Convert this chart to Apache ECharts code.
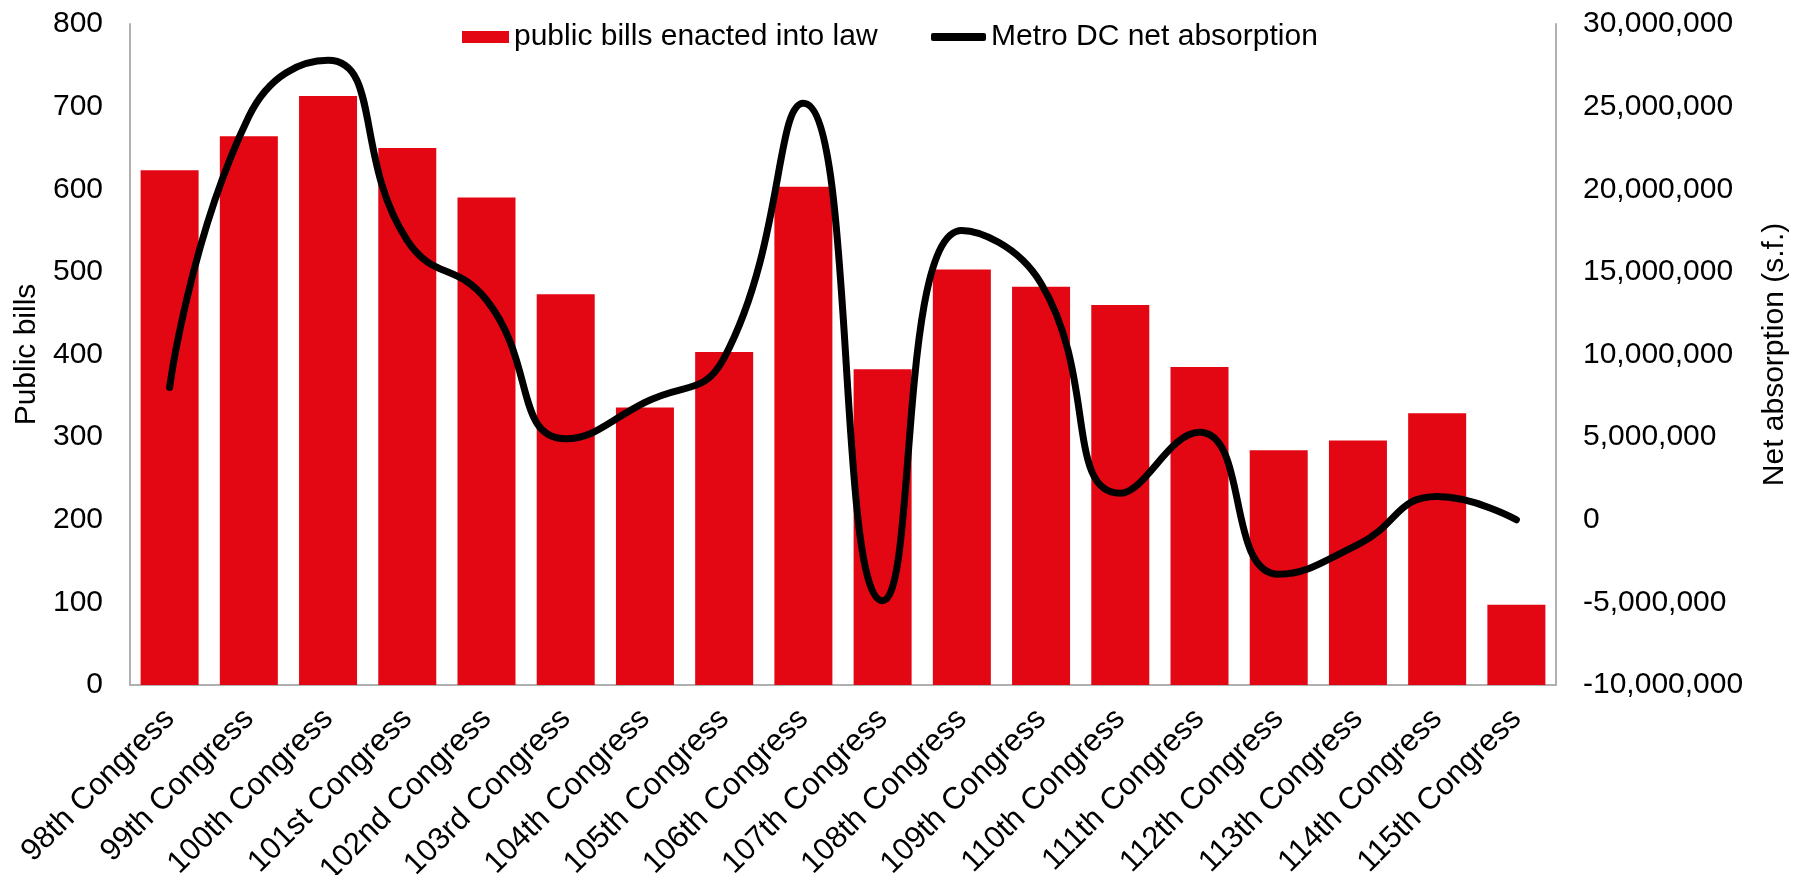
<!DOCTYPE html>
<html>
<head>
<meta charset="utf-8">
<title>Public bills vs Metro DC net absorption</title>
<script src="https://cdn.jsdelivr.net/npm/echarts@6/dist/echarts.min.js"></script>
<style>
  html, body { margin: 0; padding: 0; background: #fff; }
  #chart { width: 1801px; height: 875px; }
</style>
</head>
<body>
<div id="chart"></div>
<script>
const categories = [
  '98th Congress', '99th Congress', '100th Congress', '101st Congress', '102nd Congress',
  '103rd Congress', '104th Congress', '105th Congress', '106th Congress', '107th Congress',
  '108th Congress', '109th Congress', '110th Congress', '111th Congress', '112th Congress',
  '113th Congress', '114th Congress', '115th Congress'
]
// public bills enacted into law (left axis)
const publicBills = [623, 664, 713, 650, 590, 473, 336, 403, 603, 382, 503, 482, 460, 385, 284, 296, 329, 97]
// Metro DC net absorption, s.f. (right axis)
const netAbsorption = [
  8000000, 24400000, 27800000, 16900000, 13300000, 4900000, 7100000, 9800000, 25200000,
  -4900000, 17500000, 14300000, 1600000, 5300000, -3300000, -1500000, 1400000, 0
]

const font = "'Liberation Sans', Arial, sans-serif"
const axisGrey = '#b0b0b0'

const chart = echarts.init(document.getElementById('chart'))

chart.setOption({
  animation: false,
  textStyle: { fontFamily: font, color: '#000' },
  legend: [{
    data: ['public bills enacted into law'],
    left: 457,
    top: 17,
    icon: 'rect',
    itemWidth: 47,
    itemHeight: 12,
    textStyle: { fontFamily: font, fontSize: 30, color: '#000' }
  }, {
    data: ['Metro DC net absorption'],
    left: 926,
    top: 17,
    icon: 'roundRect',
    itemWidth: 55,
    itemHeight: 8,
    textStyle: { fontFamily: font, fontSize: 30, color: '#000' }
  }],
  grid: {
    left: 130,
    right: 245,
    top: 24,
    bottom: 190,
    outerBoundsMode: 'none'
  },
  xAxis: {
    type: 'category',
    data: categories,
    axisLine: { lineStyle: { color: axisGrey, width: 2 } },
    axisTick: { show: false },
    axisLabel: {
      interval: 0,
      rotate: 45,
      margin: 29,
      fontSize: 31,
      fontFamily: font,
      color: '#000'
    }
  },
  yAxis: [{
    type: 'value',
    name: 'Public bills',
    nameLocation: 'middle',
    nameRotate: 90,
    nameGap: 85,
    nameTextStyle: { fontSize: 30, fontFamily: font, color: '#000' },
    min: 0,
    max: 800,
    interval: 100,
    axisLine: { show: true, lineStyle: { color: axisGrey, width: 2 } },
    axisTick: { show: false },
    splitLine: { show: false },
    axisLabel: { margin: 27, fontSize: 30, fontFamily: font, color: '#000' }
  }, {
    type: 'value',
    name: 'Net absorption (s.f.)',
    nameLocation: 'middle',
    nameRotate: 90,
    nameGap: 204,
    nameTextStyle: { fontSize: 30, fontFamily: font, color: '#000' },
    position: 'right',
    min: -10000000,
    max: 30000000,
    interval: 5000000,
    axisLine: { show: true, lineStyle: { color: axisGrey, width: 2 } },
    axisTick: { show: false },
    splitLine: { show: false },
    axisLabel: {
      margin: 27,
      fontSize: 30,
      fontFamily: font,
      color: '#000',
      formatter: v => v.toLocaleString('en-US')
    }
  }],
  series: [{
    name: 'public bills enacted into law',
    type: 'bar',
    data: publicBills,
    barWidth: 58,
    itemStyle: { color: '#e30613' }
  }, {
    name: 'Metro DC net absorption',
    type: 'line',
    yAxisIndex: 1,
    data: netAbsorption,
    smooth: 0.5,
    symbol: 'none',
    itemStyle: { color: '#000' },
    lineStyle: { color: '#000', width: 7, cap: 'round', join: 'round' }
  }]
})
</script>
</body>
</html>
